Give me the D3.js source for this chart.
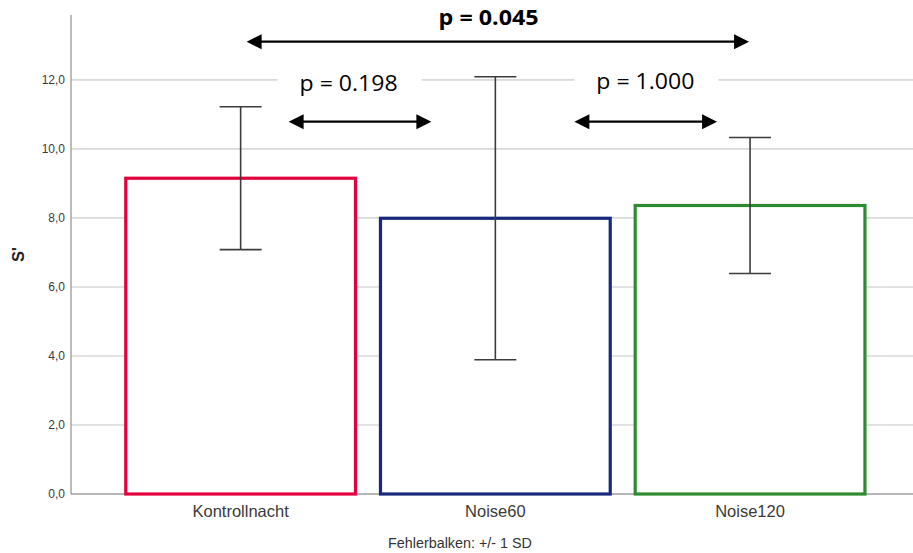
<!DOCTYPE html>
<html>
<head>
<meta charset="utf-8">
<script src="https://cdn.jsdelivr.net/npm/d3@7"></script>
<style>
  html, body { margin: 0; padding: 0; background: #fff; }
  svg { display: block; }
</style>
</head>
<body>
<svg id="chart" width="913" height="553"></svg>
<script>
// Mean S' per night condition with +/- 1 SD error bars
const categories = ["Kontrollnacht", "Noise60", "Noise120"];
const means = [9.15, 7.99, 8.36];
const sds = [2.07, 4.10, 1.97];
const barColors = ["#e2003c", "#17297a", "#2e8b30"];
const yTicks = [0, 2, 4, 6, 8, 10, 12];

// Pairwise comparisons shown above the bars
const compFrom = ["Kontrollnacht", "Noise60", "Kontrollnacht"];
const compTo = ["Noise60", "Noise120", "Noise120"];
const compLabels = ["p = 0.198", "p = 1.000", "p = 0.045"];
const compBold = [false, false, true];

const svg = d3.select("#chart");
const W = 913, H = 553;
const axisX = 71, baseY = 494, topY = 15;

const x = d3.scaleBand()
  .domain(categories)
  .range([axisX, 919.7])
  .paddingInner(0.098)
  .paddingOuter(0.215);

const y = d3.scaleLinear().domain([0, 13.88]).range([baseY, topY]);

const locale = d3.formatLocale({ decimal: ",", thousands: ".", grouping: [3], currency: ["", "€"] });
const fmt = locale.format(".1f");

// gridlines
svg.append("g")
  .selectAll("line")
  .data(yTicks.filter(d => d > 0))
  .join("line")
  .attr("x1", axisX).attr("x2", W)
  .attr("y1", d => y(d)).attr("y2", d => y(d))
  .attr("stroke", "#d9d9d9")
  .attr("stroke-width", 1.6);

// y axis with comma decimal labels
const yAxis = svg.append("g")
  .attr("transform", `translate(${axisX},0)`)
  .call(d3.axisLeft(y).tickValues(yTicks).tickFormat(fmt).tickSize(0).tickPadding(6));
yAxis.select(".domain").remove();
yAxis.selectAll("text")
  .attr("font-family", "Liberation Sans, Arial, sans-serif")
  .attr("font-size", 12)
  .attr("fill", "#3a3a3a");

svg.append("line")
  .attr("x1", axisX).attr("x2", axisX)
  .attr("y1", topY).attr("y2", baseY)
  .attr("stroke", "#a6a6a6").attr("stroke-width", 1.5);

svg.append("line")
  .attr("x1", axisX).attr("x2", W)
  .attr("y1", baseY).attr("y2", baseY)
  .attr("stroke", "#6e6e6e").attr("stroke-width", 1.2);

// y axis title
svg.append("text")
  .attr("transform", `translate(24,${(topY + baseY) / 2}) rotate(-90)`)
  .attr("text-anchor", "middle")
  .attr("font-family", "Liberation Sans, Arial, sans-serif")
  .attr("font-weight", "bold")
  .attr("font-size", 16.5)
  .attr("fill", "#222")
  .text("S'");

// bars (outlined)
svg.append("g")
  .selectAll("rect")
  .data(categories)
  .join("rect")
  .attr("x", d => x(d))
  .attr("width", x.bandwidth())
  .attr("y", (d, i) => y(means[i]))
  .attr("height", (d, i) => y(0) - y(means[i]))
  .attr("fill", "#fff")
  .attr("stroke", (d, i) => barColors[i])
  .attr("stroke-width", 3.2);

// error bars
const eb = svg.append("g").attr("stroke", "#3c3c3c").attr("stroke-width", 1.6);
categories.forEach((c, i) => {
  const cx = x(c) + x.bandwidth() / 2;
  const hi = y(means[i] + sds[i]), lo = y(means[i] - sds[i]);
  eb.append("line").attr("x1", cx).attr("x2", cx).attr("y1", hi).attr("y2", lo);
  eb.append("line").attr("x1", cx - 21).attr("x2", cx + 21).attr("y1", hi).attr("y2", hi);
  eb.append("line").attr("x1", cx - 21).attr("x2", cx + 21).attr("y1", lo).attr("y2", lo);
});

// x category labels
svg.append("g")
  .selectAll("text")
  .data(categories)
  .join("text")
  .attr("x", d => x(d) + x.bandwidth() / 2)
  .attr("y", 517)
  .attr("text-anchor", "middle")
  .attr("font-family", "Liberation Sans, Arial, sans-serif")
  .attr("font-size", 16.5)
  .attr("fill", "#3a3a3a")
  .text(d => d);

// footnote
svg.append("text")
  .attr("x", 388).attr("y", 548)
  .attr("font-family", "Liberation Sans, Arial, sans-serif")
  .attr("font-size", 14)
  .attr("textLength", 144)
  .attr("lengthAdjust", "spacingAndGlyphs")
  .attr("fill", "#333")
  .text("Fehlerbalken: +/- 1 SD");

// comparison annotations: arrow span and label placement per comparison
const center = c => x(c) + x.bandwidth() / 2;
const layout = [
  { a0: 48, a1: -64, ay: 121.7, tx: 108, ty: 91, box: true, w: 98 },
  { a0: 79, a1: -33, ay: 121.7, tx: 150, ty: 89, box: true, w: 98 },
  { a0: 6, a1: -1, ay: 41.7, tx: 248, ty: 25, box: false, w: 100 }
];

function arrow(g, x1, x2, yy) {
  const hl = 15, hh = 7.5;
  g.append("line")
    .attr("x1", x1 + hl - 1).attr("x2", x2 - hl + 1)
    .attr("y1", yy).attr("y2", yy)
    .attr("stroke", "#000").attr("stroke-width", 2.2);
  g.append("path")
    .attr("d", `M${x1},${yy} L${x1 + hl},${yy - hh} L${x1 + hl},${yy + hh} Z`)
    .attr("fill", "#000");
  g.append("path")
    .attr("d", `M${x2},${yy} L${x2 - hl},${yy - hh} L${x2 - hl},${yy + hh} Z`)
    .attr("fill", "#000");
}

const ann = svg.append("g");
compLabels.forEach((lab, i) => {
  const L = layout[i];
  const c1 = center(compFrom[i]), c2 = center(compTo[i]);
  const tx = c1 + L.tx;
  if (L.box) {
    ann.append("rect")
      .attr("x", tx - 71).attr("y", 62)
      .attr("width", 144).attr("height", 38)
      .attr("fill", "#fff");
  }
  arrow(ann, c1 + L.a0, c2 + L.a1, L.ay);
  ann.append("text")
    .attr("x", tx).attr("y", L.ty)
    .attr("text-anchor", "middle")
    .attr("font-family", "Open Sans, Lato, sans-serif")
    .attr("font-weight", compBold[i] ? "bold" : "normal")
    .attr("font-size", 21)
    .attr("textLength", L.w)
    .attr("lengthAdjust", "spacingAndGlyphs")
    .attr("fill", "#000")
    .text(lab);
});
</script>
</body>
</html>
